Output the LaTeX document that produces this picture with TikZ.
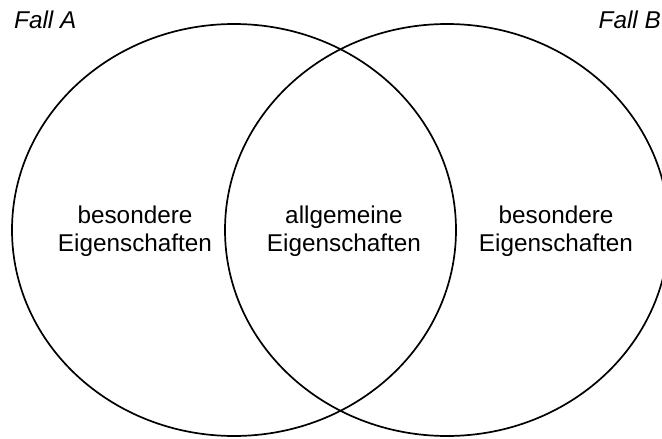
\documentclass[tikz,border=0pt]{standalone}
\usepackage{fontspec}
\setmainfont{Liberation Sans}
\begin{document}
\begin{tikzpicture}[x=1pt,y=-1pt,
  set/.style={draw=black,line width=1.7pt},
  label/.style={align=center,font=\fontsize{24.3}{28.5}\selectfont,inner sep=0pt},
  case/.style={font=\fontsize{24.3}{28.5}\selectfont\itshape,inner sep=0pt}]
  \useasboundingbox (0,0) rectangle (662,439);
  \clip (0,0) rectangle (662,439);
  % the two overlapping sets
  \draw[set] (234,230) ellipse [x radius=222, y radius=206];
  \draw[set] (447,230) ellipse [x radius=222, y radius=206];
  % labels inside the sets
  \node[label] (la) at (135,231) {besondere\\Eigenschaften};
  \node[label] (lm) at (344,231) {allgemeine\\Eigenschaften};
  \node[label] (lb) at (556,231) {besondere\\Eigenschaften};
  % case titles
  \node[case,anchor=base west] (fa) at (14,28) {Fall A};
  \node[case,anchor=base east] (fb) at (661,28) {Fall B};
\end{tikzpicture}
\end{document}
